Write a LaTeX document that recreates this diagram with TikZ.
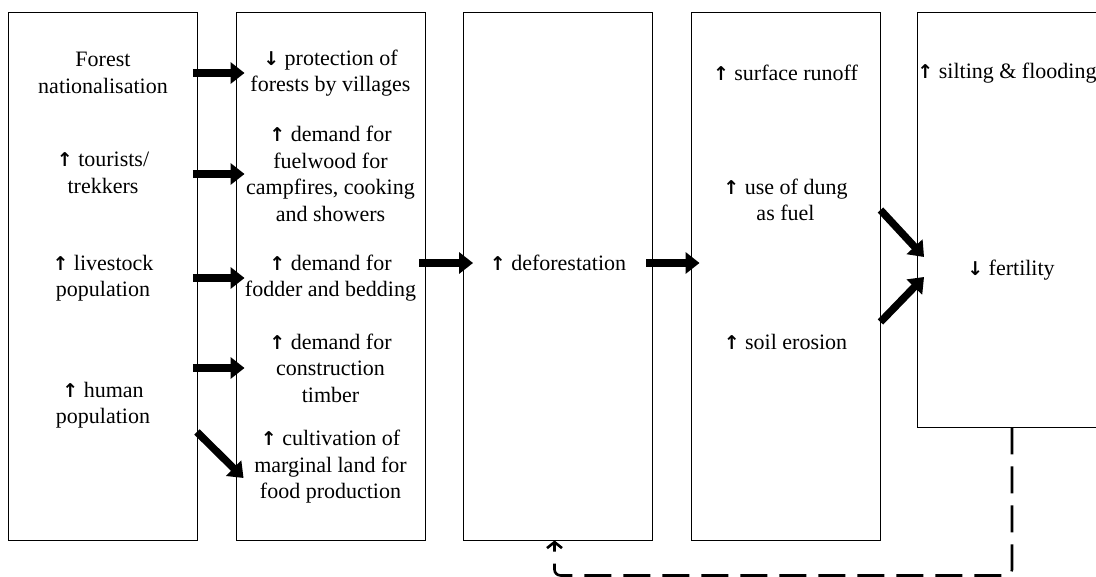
\documentclass[tikz,border=0pt]{standalone}
\usepackage{fontspec}
\setmainfont{Liberation Serif}
\newfontfamily\tms{Liberation Serif}
\newfontfamily\arr{DejaVu Sans}
\usetikzlibrary{arrows.meta}

\newcommand\up{{\arr\bfseries\fontsize{19}{19}\selectfont ↑}}
\newcommand\down{{\arr\bfseries\fontsize{19}{19}\selectfont ↓}}

\tikzset{
  box/.style={draw, line width=0.9pt, minimum width=189pt, inner sep=0pt},
  lbl/.style={align=center, font=\tms\fontsize{22}{26.5}\selectfont},
  fat/.style={line width=7.5pt, -{Triangle[length=14pt,width=21pt]}},
  feedback/.style={line width=2.6pt, dash pattern=on 27pt off 12pt, rounded corners=6pt, -{Straight Barb[length=6pt,width=15pt]}}
}

\begin{document}
\begin{tikzpicture}[x=1pt, y=-1pt]
  \useasboundingbox (0,0) rectangle (1096,577);

  % Boxes
  \node[box, minimum height=528pt] (b1) at (103,276) {};
  \node[box, minimum height=528pt] (b2) at (330.5,276) {};
  \node[box, minimum height=528pt] (b3) at (558,276) {};
  \node[box, minimum height=528pt] (b4) at (785.5,276) {};
  \node[box, minimum height=415pt] (b5) at (1012,219.5) {};

  % Causes
  \node[lbl] (f1) at (103,73) {Forest\\nationalisation};
  \node[lbl] (f2) at (103,173) {\up{} tourists/\\trekkers};
  \node[lbl] (f3) at (103,278) {\up{} livestock\\population};
  \node[lbl] (f4) at (103,405) {\up{} human\\population};

  % Demands
  \node[lbl] (d1) at (330.5,73) {\down{} protection of\\forests by villages};
  \node[lbl] (d2) at (330.5,174) {\up{} demand for\\fuelwood for\\campfires, cooking\\and showers};
  \node[lbl] (d3) at (330.5,278) {\up{} demand for\\fodder and bedding};
  \node[lbl] (d4) at (330.5,368) {\up{} demand for\\construction\\timber};
  \node[lbl] (d5) at (330.5,467) {\up{} cultivation of\\marginal land for\\food production};

  % Deforestation
  \node[lbl] (def) at (558,263) {\up{} deforestation};

  % Effects
  \node[lbl] (r1) at (785.5,73) {\up{} surface runoff};
  \node[lbl] (r2) at (785.5,200) {\up{} use of dung\\as fuel};
  \node[lbl] (r3) at (785.5,342) {\up{} soil erosion};
  \node[lbl] (s1) at (1007,73) {\up{} silting \& flooding};
  \node[lbl] (fert) at (1011,270) {\down{} fertility};

  % Arrows
  \draw[fat] ([xshift=-5pt]b1.east |- d1) -- ([xshift=9pt]b2.west |- d1);
  \draw[fat] ([xshift=-5pt]b1.east |- d2) -- ([xshift=9pt]b2.west |- d2);
  \draw[fat] ([xshift=-5pt]b1.east |- d3) -- ([xshift=9pt]b2.west |- d3);
  \draw[fat] ([xshift=-5pt]b1.east |- d4) -- ([xshift=9pt]b2.west |- d4);
  \draw[fat] ([xshift=-1pt,yshift=-156pt]b1.east) -- ([xshift=8pt,yshift=-202pt]b2.west);
  \draw[fat] ([xshift=-6pt]b2.east |- def) -- ([xshift=10pt]b3.west |- def);
  \draw[fat] ([xshift=-6.5pt]b3.east |- def) -- ([xshift=9pt]b4.west |- def);
  \draw[fat] ([yshift=66pt]b4.east) -- ([xshift=7pt,yshift=13pt]b5.west |- fert);
  \draw[fat] ([yshift=-46pt]b4.east) -- ([xshift=7pt,yshift=-7pt]b5.west |- fert);

  % Feedback
  \draw[feedback] (b5.south) -- ++(0,148) -| ([xshift=-3.5pt]b3.south);

\end{tikzpicture}
\end{document}
